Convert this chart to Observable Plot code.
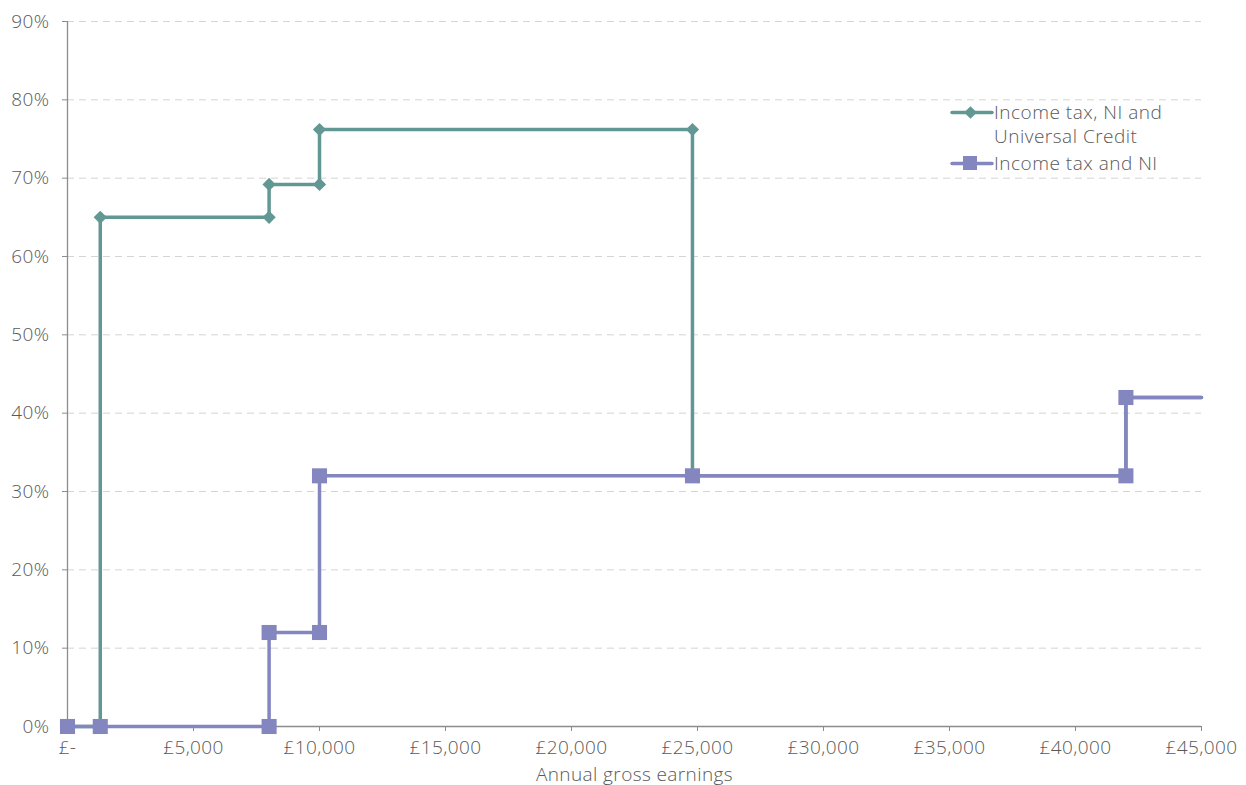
<!DOCTYPE html>
<html>
<head>
<meta charset="utf-8">
<script src="https://cdn.jsdelivr.net/npm/d3@7"></script>
<script src="https://cdn.jsdelivr.net/npm/@observablehq/plot@0.6"></script>
<style>
  body { margin: 0; background: #fff; }
  #wrap { position: relative; width: 1246px; height: 785px; font-family: "Open Sans", Lato, sans-serif; font-weight: 300; color: #595959; }
  #legend { position: absolute; left: 950px; top: 100px; font-size: 19px; line-height: 24px; color: #595959; font-weight: 300; letter-spacing: 0.5px; }
  .item { display: flex; align-items: flex-start; margin-bottom: 3px; }
  .item svg { flex: none; margin-top: 5px; }
  svg text { font-weight: 300; letter-spacing: 0.4px; }
</style>
</head>
<body>
<div id="wrap">
  <div id="chart"></div>
  <div id="legend"></div>
</div>
<script>
const xTicks = [0, 5000, 10000, 15000, 20000, 25000, 30000, 35000, 40000, 45000];
const yTicks = [0, 10, 20, 30, 40, 50, 60, 70, 80, 90];

const seriesNames = ["Income tax, NI and Universal Credit", "Income tax and NI"];
const colors = ["#629893", "#8386bf"];

const ucEarnings = [0, 1300, 1300, 8000, 8000, 10000, 10000, 24800, 24800, 42000, 42000, 45000];
const ucRate     = [0, 0, 65, 65, 69.2, 69.2, 76.2, 76.2, 32, 32, 42, 42];
const ucMarker   = [true, true, true, true, true, true, true, true, true, true, true, false];

const niEarnings = [0, 1300, 8000, 8000, 10000, 10000, 24800, 42000, 42000, 45000];
const niRate     = [0, 0, 0, 12, 12, 32, 32, 32, 42, 42];
const niMarker   = [true, true, true, true, true, true, true, true, true, false];

const uc = ucEarnings.map((x, i) => ({x, y: ucRate[i], m: ucMarker[i]}));
const ni = niEarnings.map((x, i) => ({x, y: niRate[i], m: niMarker[i]}));

const fmtX = d => d === 0 ? "£-" : "£" + d3.format(",")(d);

const chart = Plot.plot({
  width: 1246,
  height: 785,
  marginLeft: 67,
  marginRight: 45,
  marginTop: 21,
  marginBottom: 59,
  style: { fontFamily: "'Open Sans', Lato, sans-serif", fontSize: "19px", color: "#595959", background: "#fff" },
  x: { domain: [0, 45000] },
  y: { domain: [0, 90] },
  marks: [
    Plot.gridY(yTicks.filter(d => d > 0), { stroke: "#d4d4d4", strokeOpacity: 1, strokeDasharray: "7,5" }),
    Plot.axisX(xTicks, { tickFormat: fmtX, tickSize: 5, tickPadding: 9, stroke: "#8c8c8c", fill: "#595959", fontSize: 19,
      label: "Annual gross earnings", labelAnchor: "center", labelArrow: "none", labelOffset: 54 }),
    Plot.axisY(yTicks, { tickFormat: d => d + "%", tickSize: 5, tickPadding: 13, stroke: "#8c8c8c", fill: "#595959", fontSize: 19, label: null }),
    Plot.ruleX([0], { stroke: "#8c8c8c", strokeWidth: 1.3 }),
    Plot.ruleY([0], { stroke: "#8c8c8c", strokeWidth: 1.3 }),
    Plot.line(uc, { x: "x", y: "y", stroke: colors[0], strokeWidth: 3.5 }),
    Plot.dot(uc.filter(d => d.m), { x: "x", y: "y", symbol: "square", rotate: 45, r: 5.3, fill: colors[0] }),
    Plot.line(ni, { x: "x", y: "y", stroke: colors[1], strokeWidth: 3.5 }),
    Plot.dot(ni.filter(d => d.m), { x: "x", y: "y", symbol: "square", r: 8.5, fill: colors[1] })
  ]
});
document.getElementById("chart").appendChild(chart);

const legendLabels = [["Income tax, NI and", "Universal Credit"], ["Income tax and NI"]];
const legend = document.getElementById("legend");
legendLabels.forEach((lines, i) => {
  const item = document.createElement("div");
  item.className = "item";
  const sym = i === 0
    ? `<rect x="16" y="3" width="9" height="9" transform="rotate(45 20.5 7.5)" fill="${colors[0]}"/>`
    : `<rect x="13" y="0" width="14" height="14" fill="${colors[1]}"/>`;
  item.innerHTML = `<svg width="44" height="16"><line x1="2" x2="42" y1="7.5" y2="7.5" stroke="${colors[i]}" stroke-width="3.5" stroke-linecap="round"/>${sym}</svg><div>${lines.join("<br>")}</div>`;
  legend.appendChild(item);
});
</script>
</body>
</html>
